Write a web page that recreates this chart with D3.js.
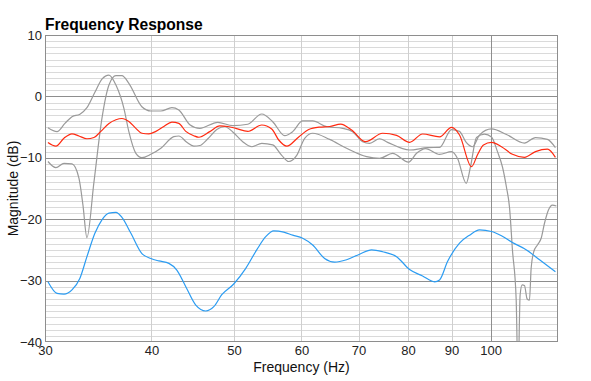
<!DOCTYPE html>
<html><head><meta charset="utf-8">
<script src="https://cdn.jsdelivr.net/npm/d3@7"></script>
<style>
html,body{margin:0;padding:0;background:#fff;}
svg{display:block;font-family:"Liberation Sans",Arial,Helvetica,sans-serif;}
</style></head>
<body>
<svg id="chart" width="591" height="381"></svg>
<script>
const title = "Frequency Response";
const xLabel = "Frequency (Hz)";
const yLabel = "Magnitude (dB)";
const xTicks = [30,40,50,60,70,80,90,100];
const yTicks = [10,0,-10,-20,-30,-40];

const freqRed = [30.24,30.90,31.58,32.27,32.88,33.60,34.24,34.89,35.66,36.34,36.93,37.63,38.35,38.98,39.72,40.48,41.36,42.27,43.07,43.89,44.85,45.46,46.83,48.11,49.16,50.23,51.89,53.89,55.36,56.42,57.65,59.55,61.18,63.02,64.74,66.70,68.70,71.35,74.70,77.58,80.35,83.22,87.13,90.00,91.96,94.99,96.54,98.11,100.26,103.00,106.10,109.60,112.91,116.62,119.17];
const dbRed = [-7.5,-8.1,-6.8,-6.1,-6.45,-6.9,-6.7,-5.7,-4.4,-3.8,-3.6,-4.1,-5.2,-6.0,-6.1,-5.7,-4.9,-4.2,-4.4,-5.7,-6.4,-6.65,-5.74,-4.8,-4.9,-5.2,-5.7,-4.66,-5.3,-7.1,-8.1,-6.6,-5.4,-5.0,-4.9,-4.5,-5.47,-7.38,-6.0,-6.35,-7.48,-6.12,-6.6,-5.05,-6.29,-11.45,-9.5,-7.9,-7.5,-8.2,-9.43,-9.92,-9.0,-8.6,-9.92];

const freqBlue = [30.24,30.99,31.58,32.27,32.97,33.60,34.33,34.99,35.66,36.34,36.93,37.84,38.98,39.94,40.81,41.93,42.84,43.89,45.09,46.32,47.34,48.37,49.96,51.61,53.16,54.47,55.66,57.18,58.59,60.19,61.84,63.87,65.63,67.78,70.20,72.51,74.70,77.58,80.35,83.22,85.96,87.13,89.03,91.96,94.48,97.06,100.26,103.00,106.10,110.20,114.17,119.17];
const dbBlue = [-30.18,-32.07,-32.2,-31.5,-29.6,-26.1,-22.3,-20.1,-19.0,-18.9,-19.7,-22.3,-25.6,-26.4,-26.8,-27.2,-28.3,-31.0,-34.0,-34.95,-34.25,-32.3,-30.55,-28.0,-25.0,-22.85,-21.9,-22.1,-22.6,-23.1,-24.2,-26.4,-27.0,-26.6,-25.7,-25.0,-25.3,-26.1,-28.2,-29.25,-30.2,-29.9,-26.9,-23.9,-22.6,-21.75,-22.0,-22.7,-23.8,-25.0,-26.6,-28.55];

const freqGrayA = [30.24,30.99,31.66,32.27,32.97,33.60,34.33,34.99,35.66,36.34,37.13,37.63,38.35,38.98,39.94,41.03,42.49,43.07,44.01,44.85,45.58,46.58,47.72,48.76,49.83,51.19,52.45,53.89,55.51,56.88,57.96,59.23,60.52,61.84,64.74,67.78,71.54,74.10,76.74,80.13,81.88,83.90,87.13,90.00,91.47,93.64,94.73,96.28,98.38,100.26,101.89,103.28,104.40,105.25,106.10,107.17,107.72,108.33,108.92,109.60,110.41,111.09,111.60,112.39,113.52,114.66,115.68,116.94,118.21,119.49];
const dbGrayA = [-5.1,-5.74,-4.4,-3.3,-2.9,-1.84,0.67,2.83,3.48,1.86,-1.94,-5.74,-9.27,-9.98,-9.43,-8.45,-6.56,-6.45,-7.48,-8.1,-8.0,-6.9,-5.4,-4.9,-5.8,-7.38,-8.2,-7.64,-7.9,-9.6,-10.6,-9.6,-6.83,-6.0,-7.0,-8.45,-9.82,-10.1,-9.27,-10.7,-9.27,-8.5,-9.45,-9.0,-10.1,-14.15,-11.45,-6.7,-6.15,-6.6,-9.0,-11.5,-14.8,-18.0,-25.0,-33.0,-46.0,-32.3,-30.7,-30.8,-33.0,-33.2,-28.0,-25.3,-24.2,-23.1,-20.7,-18.5,-17.7,-17.85];

const freqGrayB = [30.24,30.90,31.58,32.27,32.88,33.24,33.60,34.24,34.99,35.66,36.34,36.93,37.63,38.98,39.94,41.03,42.27,43.07,44.37,45.58,47.85,49.83,51.89,53.89,55.51,57.34,58.59,60.19,61.84,64.22,67.06,68.89,70.77,72.12,74.10,75.72,80.35,84.36,87.13,90.00,91.96,93.64,95.24,97.06,100.26,104.40,109.60,112.91,116.62,119.17];
const dbGrayB = [-10.6,-11.6,-10.9,-11.0,-13.3,-17.7,-23.0,-14.0,-3.57,1.86,3.37,3.37,2.13,-1.68,-2.38,-2.38,-1.84,-2.21,-4.6,-5.2,-4.22,-4.77,-4.54,-2.87,-4.12,-6.4,-5.74,-4.0,-4.0,-4.93,-5.2,-5.74,-7.38,-7.64,-6.9,-7.48,-8.73,-8.35,-8.3,-5.4,-5.7,-7.5,-8.2,-6.3,-5.3,-6.2,-7.6,-6.7,-7.0,-8.35];

const W = 591, H = 381;
const m = {left:45, right:558, top:35, bottom:342};
const svg = d3.select("#chart");
const x = d3.scaleLog().domain([30,120]).range([m.left, m.right]);
const y = d3.scaleLinear().domain([-40,10]).range([m.bottom, m.top]);

// grid
const g = svg.append("g").attr("shape-rendering","crispEdges");
const hMinor = d3.range(-40, 11, 1);
g.selectAll("line.hm").data(hMinor.filter(d => d % 10 !== 0)).join("line")
  .attr("x1", m.left).attr("x2", m.right)
  .attr("y1", d => Math.round(y(d))+0.5).attr("y2", d => Math.round(y(d))+0.5)
  .attr("stroke", "#dadada").attr("stroke-width", 1);
g.selectAll("line.vm").data(xTicks.filter(d => d !== 30 && d !== 100)).join("line")
  .attr("y1", m.top).attr("y2", m.bottom)
  .attr("x1", d => Math.round(x(d))+0.5).attr("x2", d => Math.round(x(d))+0.5)
  .attr("stroke", "#cfcfcf").attr("stroke-width", 1);
g.selectAll("line.hM").data(yTicks.filter(d => d !== 10 && d !== -40)).join("line")
  .attr("x1", m.left).attr("x2", m.right)
  .attr("y1", d => Math.round(y(d))+0.5).attr("y2", d => Math.round(y(d))+0.5)
  .attr("stroke", "#8e8e8e").attr("stroke-width", 1);
g.append("line").attr("y1", m.top).attr("y2", m.bottom)
  .attr("x1", Math.round(x(100))+0.5).attr("x2", Math.round(x(100))+0.5)
  .attr("stroke", "#8e8e8e");

svg.append("clipPath").attr("id","clip").append("rect")
  .attr("x", m.left).attr("y", m.top).attr("width", m.right-m.left).attr("height", m.bottom-m.top);

const line = d3.line().x(d => x(d[0])).y(d => y(d[1])).curve(d3.curveMonotoneX);
const series = [
  {f: freqGrayA, v: dbGrayA, c: "#9a9a9a"},
  {f: freqGrayB, v: dbGrayB, c: "#9a9a9a"},
  {f: freqBlue, v: dbBlue, c: "#2b9cf2"},
  {f: freqRed, v: dbRed, c: "#ff2a10"}
];
const lg = svg.append("g").attr("clip-path","url(#clip)");
series.forEach(s => {
  lg.append("path").datum(s.f.map((f,i) => [f, s.v[i]]))
    .attr("d", line).attr("fill","none").attr("stroke", s.c).attr("stroke-width", 1.2);
});

svg.append("rect").attr("x", m.left+0.5).attr("y", m.top+0.5)
  .attr("width", m.right-m.left-1).attr("height", m.bottom-m.top-1)
  .attr("fill","none").attr("stroke","#8e8e8e").attr("shape-rendering","crispEdges");

const yAxis = d3.axisLeft(y).tickValues(yTicks).tickSize(0).tickPadding(3).tickFormat(d3.format("d"));
const ya = svg.append("g").attr("transform", `translate(${m.left},0)`).call(yAxis);
const xAxis = d3.axisBottom(x).tickValues(xTicks).tickSize(0).tickPadding(4).tickFormat(d3.format("d"));
const xa = svg.append("g").attr("transform", `translate(0,${m.bottom})`).call(xAxis);
[ya, xa].forEach(a => {
  a.select(".domain").remove();
  a.selectAll("text").attr("font-size", 13).attr("fill", "#222")
    .attr("font-family", '"Liberation Sans",Arial,Helvetica,sans-serif');
});

svg.append("text").attr("x", m.left).attr("y", 29.5).text(title)
  .attr("font-size", 15.6).attr("font-weight", "bold").attr("fill", "#000");
svg.append("text").attr("x", (m.left+m.right)/2).attr("y", 372).attr("text-anchor","middle")
  .text(xLabel).attr("font-size", 14).attr("fill", "#111");
svg.append("text").attr("transform", `translate(18,${(m.top+m.bottom)/2}) rotate(-90)`)
  .attr("text-anchor","middle").text(yLabel).attr("font-size", 14).attr("fill", "#111");
</script>
</body></html>
